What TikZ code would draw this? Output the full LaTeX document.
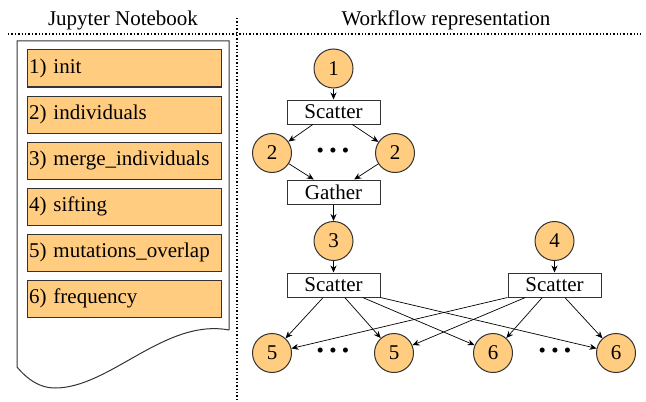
\documentclass[tikz,border=0pt]{standalone}
\usepackage{fontspec}
\setmainfont{Liberation Serif}
\usetikzlibrary{positioning,calc,arrows.meta}
\definecolor{cellorange}{HTML}{FFCC80}

\begin{document}
\begin{tikzpicture}[x=0.5pt,y=-0.5pt,
    font=\fontsize{10.5}{12}\selectfont,
    cell/.style={draw=black!80,fill=cellorange,line width=0.5pt,text width=95pt,
      minimum height=18.5pt,inner xsep=1pt,inner ysep=0pt,align=left},
    task/.style={circle,draw=black!80,fill=cellorange,line width=0.5pt,
      minimum size=19.5pt,inner sep=0pt},
    op/.style={draw=black!80,line width=0.5pt,minimum width=46.5pt,
      minimum height=12pt,inner sep=0pt},
    arr/.style={-{Stealth[length=3.5pt,width=3pt]},line width=0.35pt},
    sep/.style={densely dotted,line width=0.7pt}]
    \useasboundingbox (0,0) rectangle (646,401);

    % Headers
    \node (nbtitle) at (123,20) {Jupyter Notebook};
    \node (wftitle) at (446,20) {Workflow representation};
    \draw[sep] (8,34) -- (641,34);
    \draw[sep] (237,18) -- (237,401);

    % Notebook
    \draw[draw=black!80,line width=0.5pt] (229,330) -- (229,41) -- (17,41) -- (17,367)
      .. controls (28,380) and (40,388) .. (55,388)
      .. controls (110,388) and (165,318) .. (229,330);
    \node[cell] (cell1) at (124,68.5) {1) init};
    \node[cell,below=4pt of cell1] (cell2) {2) individuals};
    \node[cell,below=4pt of cell2] (cell3) {3) merge\_individuals};
    \node[cell,below=4pt of cell3] (cell4) {4) sifting};
    \node[cell,below=4pt of cell4] (cell5) {5) mutations\_overlap};
    \node[cell,below=4pt of cell5] (cell6) {6) frequency};

    % Workflow
    \node[task] (t1) at (333.5,68.5) {1};
    \node[op] (sc1) at (333.5,112) {Scatter};
    \node[task] (t2a) at (272,153) {2};
    \node[task] (t2b) at (395,153) {2};
    \node (dots1) at (333,153) {\textbullet\ \textbullet\ \textbullet};
    \node[op] (ga) at (333.5,192) {Gather};
    \node[task] (t3) at (333.5,241) {3};
    \node[task] (t4) at (554.5,241) {4};
    \node[op] (sc2) at (333.5,285) {Scatter};
    \node[op] (sc3) at (554.5,285) {Scatter};
    \node[task] (t5a) at (272,353) {5};
    \node[task] (t5b) at (394,353) {5};
    \node[task] (t6a) at (493,353) {6};
    \node[task] (t6b) at (616,353) {6};
    \node (dots2) at (333,353) {\textbullet\ \textbullet\ \textbullet};
    \node (dots3) at (555,353) {\textbullet\ \textbullet\ \textbullet};

    \draw[arr] (t1) -- (sc1);
    \draw[arr] ($(sc1.south west)!.28!(sc1.south east)$) -- (t2a);
    \draw[arr] ($(sc1.south west)!.70!(sc1.south east)$) -- (t2b);
    \draw[arr] (t2a) -- ($(ga.north west)!.29!(ga.north east)$);
    \draw[arr] (t2b) -- ($(ga.north west)!.72!(ga.north east)$);
    \draw[arr] (ga) -- (t3);
    \draw[arr] (t3) -- (sc2);
    \draw[arr] (t4) -- (sc3);
    \draw[arr] ($(sc2.south west)!.39!(sc2.south east)$) -- (t5a);
    \draw[arr] ($(sc2.south west)!.62!(sc2.south east)$) -- (t5b);
    \draw[arr] ($(sc2.south west)!.81!(sc2.south east)$) -- (t6a);
    \draw[arr] (sc2.south east) -- (t6b);
    \draw[arr] (sc3.south west) -- (t5a);
    \draw[arr] ($(sc3.south west)!.19!(sc3.south east)$) -- (t5b);
    \draw[arr] ($(sc3.south west)!.37!(sc3.south east)$) -- (t6a);
    \draw[arr] ($(sc3.south west)!.61!(sc3.south east)$) -- (t6b);
\end{tikzpicture}
\end{document}
